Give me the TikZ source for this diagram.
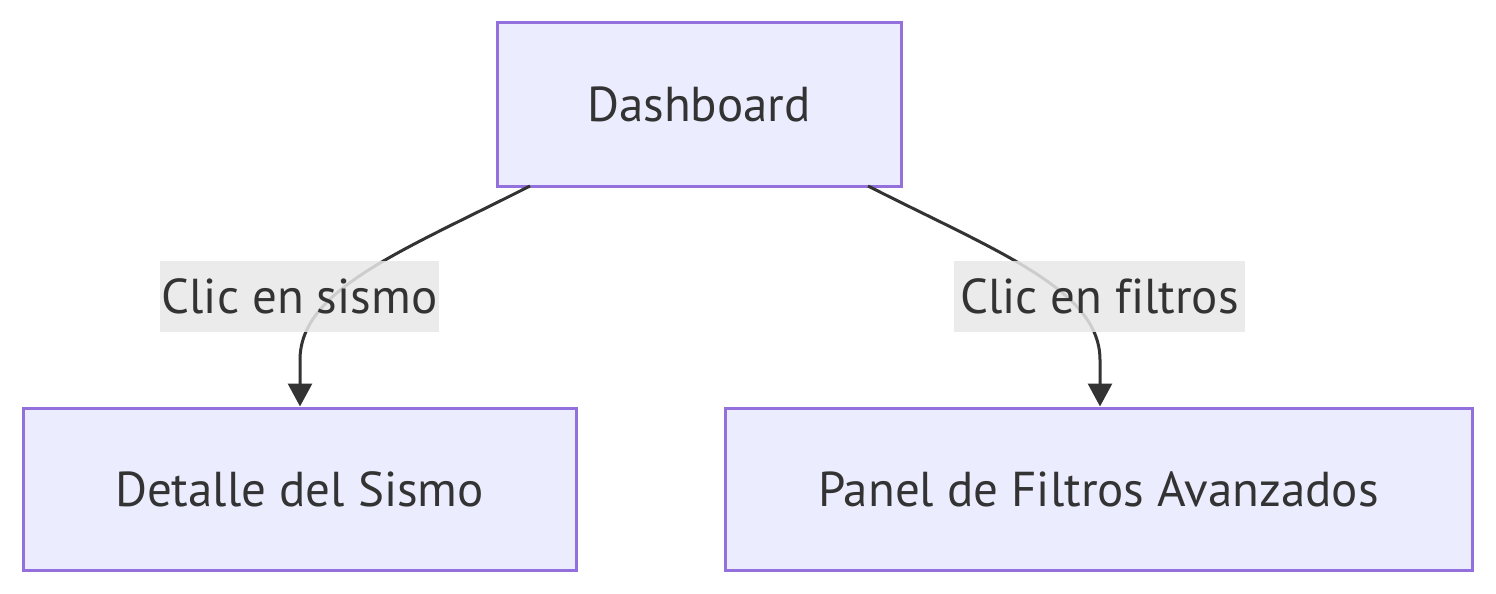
\documentclass[tikz,border=0pt]{standalone}
\usepackage{fontspec}
\setmainfont[Ligatures=NoCommon]{PT Sans}
\usetikzlibrary{arrows.meta}
\definecolor{nodefill}{HTML}{ECECFF}
\definecolor{nodeline}{HTML}{9370DB}
\definecolor{txt}{HTML}{333333}
\definecolor{lblbg}{HTML}{E8E8E8}
\tikzset{
  box/.style={draw=nodeline, fill=nodefill, line width=3pt, inner sep=0pt, text=txt},
  lbl/.style={fill=lblbg, fill opacity=0.85, text opacity=1, text=txt, inner sep=0pt},
  edge/.style={draw=txt, line width=3pt, -{Triangle[width=24pt,length=23pt]}},
  every node/.style={font=\fontsize{49}{58}\selectfont}
}
\begin{document}
\begin{tikzpicture}[x=1pt,y=-1pt]
\useasboundingbox (0,0) rectangle (1496,594);
\node[box, minimum width=404pt, minimum height=163pt] (dash) at (699,104.5) {Dashboard};
\node[box, minimum width=553pt, minimum height=162pt] (det) at (299.5,489) {Detalle del Sismo};
\node[box, minimum width=747pt, minimum height=162pt] (pan) at (1098.5,489) {Panel de Filtros Avanzados};
\coordinate (s1) at (530,186);
\coordinate (s2) at (868,186);
\draw[edge] (s1) .. controls (400,252) and (300,290) .. (300,360) -- (det.north -| 300,0);
\draw[edge] (s2) .. controls (998,252) and (1100,290) .. (1100,360) -- (pan.north -| 1100,0);
\node[lbl, minimum width=279pt, minimum height=71pt] (l1) at (299.5,296.5) {Clic en sismo};
\node[lbl, minimum width=291pt, minimum height=71pt] (l2) at (1099.5,296.5) {Clic en filtros};
\end{tikzpicture}
\end{document}
